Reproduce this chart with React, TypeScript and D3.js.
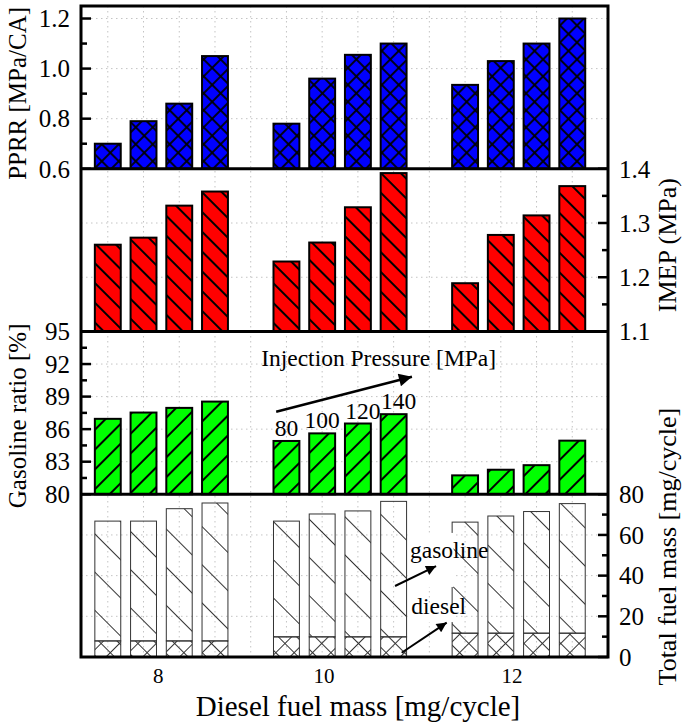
import * as d3 from 'd3'

// Diesel fuel mass groups [mg/cycle] and injection pressures [MPa]
const dieselMass = [8, 10, 12]
const pressures = [80, 100, 120, 140]
const xTickPos = [7.965, 9.82, 11.925]
const xTickLabels = ['8', '10', '12']

// PPRR [MPa/CA]
const pprr = [
  [0.70, 0.79, 0.86, 1.05],
  [0.78, 0.96, 1.055, 1.10],
  [0.935, 1.03, 1.10, 1.20],
]
// IMEP [MPa]
const imep = [
  [1.26, 1.273, 1.332, 1.358],
  [1.229, 1.264, 1.329, 1.392],
  [1.189, 1.278, 1.314, 1.368],
]
// Gasoline ratio [%]
const gasRatio = [
  [86.95, 87.53, 87.96, 88.54],
  [84.91, 85.61, 86.52, 87.38],
  [81.74, 82.26, 82.68, 84.94],
]
// Total fuel mass [mg/cycle] and its diesel part
const totalMass = [
  [66.8, 66.8, 72.9, 75.7],
  [66.8, 70.3, 71.8, 76.5],
  [66.3, 69.3, 71.5, 75.4],
]
const dieselPart = [7.9, 9.9, 11.7]

// ── layout ───────────────────────────────────────────────────────────────────
const W = 686, H = 724
const L = 81, R = 608, T = 6, B = 657
const PH = (B - T) / 4
const FONT = "'Liberation Serif', 'Times New Roman', serif"
const GRID = '#c4c4c4'

const x = d3.scaleLinear().domain([7.1, 13.0]).range([L, R])
const SLOT = 0.4
const barW = x(7.1 + 0.29) - x(7.1)
const bx = (g: number, j: number) => x(dieselMass[g] + (j - 1.5) * SLOT)

const yP = d3.scaleLinear().domain([0.6, 1.25]).range([T + PH, T])
const yI = d3.scaleLinear().domain([1.1, 1.4]).range([T + 2 * PH, T + PH])
const yG = d3.scaleLinear().domain([80, 95]).range([T + 3 * PH, T + 2 * PH])
const yM = d3.scaleLinear().domain([0, 80]).range([B, T + 3 * PH])

const cells = dieselMass.flatMap((_, g) => pressures.map((__, j) => ({ g, j })))

type Scale = d3.ScaleLinear<number, number>

function Ticks({ s, side, major, minor, fmt }: {
  s: Scale; side: 'left' | 'right'; major: number[]; minor: number[]; fmt: (v: number) => string
}) {
  const x0 = side === 'left' ? L : R
  const d = side === 'left' ? 1 : -1
  return (
    <g>
      {minor.map(v => (
        <line key={'m' + v} x1={x0} x2={x0 + d * 6} y1={s(v)} y2={s(v)} stroke="#000" strokeWidth={2.5} />
      ))}
      {major.map(v => (
        <line key={'M' + v} x1={x0} x2={x0 + d * 10} y1={s(v)} y2={s(v)} stroke="#000" strokeWidth={2.5} />
      ))}
      {major.map(v => (
        <text key={'t' + v} x={side === 'left' ? L - 11 : R + 11} y={s(v)} dy="0.35em"
          textAnchor={side === 'left' ? 'end' : 'start'} fontSize={25} fontFamily={FONT}>
          {fmt(v)}
        </text>
      ))}
    </g>
  )
}

function HGrid({ s, values }: { s: Scale; values: number[] }) {
  return (
    <g>
      {values.map(v => (
        <line key={v} x1={L} x2={R} y1={s(v)} y2={s(v)} stroke={GRID} strokeWidth={1} strokeDasharray="1.5,3.5" />
      ))}
    </g>
  )
}

function Bars({ s, vals, base, fill, pat, stroke = '#000', sw = 2 }: {
  s: Scale; vals: number[][]; base: number; fill: string; pat: string; stroke?: string; sw?: number
}) {
  return (
    <g>
      {cells.map(({ g, j }) => {
        const x0 = bx(g, j) - barW / 2
        const y0 = s(vals[g][j])
        const h = s(base) - y0
        return (
          <g key={g + '-' + j}>
            <rect x={x0} y={y0} width={barW} height={h} fill={fill} />
            <rect x={x0} y={y0} width={barW} height={h} fill={`url(#${pat})`} stroke={stroke} strokeWidth={sw} />
          </g>
        )
      })}
    </g>
  )
}

function Hatch({ id, p, angle, cross = false, color = '#000', sw = 2 }: {
  id: string; p: number; angle: number; cross?: boolean; color?: string; sw?: number
}) {
  return (
    <pattern id={id} width={p} height={p} patternUnits="userSpaceOnUse" patternTransform={`rotate(${angle})`}>
      <line x1={p / 2} x2={p / 2} y1={-1} y2={p + 1} stroke={color} strokeWidth={sw} />
      {cross && <line x1={-1} x2={p + 1} y1={p / 2} y2={p / 2} stroke={color} strokeWidth={sw} />}
    </pattern>
  )
}

export default function App() {
  const vGrid = d3.range(7.4, 12.7, SLOT)
  const panels = [T, T + PH, T + 2 * PH, T + 3 * PH]
  const g12Left = bx(2, 0) - barW / 2

  return (
    <svg width={W} height={H} viewBox={`0 0 ${W} ${H}`}
      style={{ position: 'absolute', left: 0, top: 0, background: '#fff' }} fontFamily={FONT}>
      <defs>
        <Hatch id="hCross" p={12} angle={45} cross sw={1.8} />
        <Hatch id="hBack" p={14} angle={-45} sw={2} />
        <Hatch id="hFwd" p={14} angle={45} sw={2} />
        <Hatch id="hGas" p={27} angle={-45} color="#333" sw={1} />
        <Hatch id="hDsl" p={13} angle={45} cross color="#333" sw={1} />
        <marker id="arrBig" viewBox="0 0 10 10" refX={10} refY={5} markerUnits="userSpaceOnUse"
          markerWidth={28} markerHeight={13} orient="auto">
          <path d="M0,0L10,5L0,10Z" fill="#000" />
        </marker>
        <marker id="arrSm" viewBox="0 0 10 10" refX={10} refY={5} markerUnits="userSpaceOnUse"
          markerWidth={19} markerHeight={10} orient="auto">
          <path d="M0,0L10,5L0,10Z" fill="#000" />
        </marker>
      </defs>

      {/* vertical dotted grid */}
      {vGrid.map(v => (
        <line key={v} x1={x(v)} x2={x(v)} y1={T} y2={B} stroke={GRID} strokeWidth={1} strokeDasharray="1.5,3.5" />
      ))}
      <HGrid s={yP} values={[0.8, 1.0, 1.2]} />
      <HGrid s={yI} values={[1.2, 1.3]} />
      <HGrid s={yG} values={[83, 86, 89, 92]} />
      <HGrid s={yM} values={[20, 40, 60]} />

      {/* bars */}
      <Bars s={yP} vals={pprr} base={0.6} fill="#0000ff" pat="hCross" />
      <Bars s={yI} vals={imep} base={1.1} fill="#ff0000" pat="hBack" />
      <Bars s={yG} vals={gasRatio} base={80} fill="#00ff00" pat="hFwd" />
      {cells.map(({ g, j }) => {
        const x0 = bx(g, j) - barW / 2
        const yt = yM(totalMass[g][j])
        const yd = yM(dieselPart[g])
        return (
          <g key={'m' + g + j}>
            <rect x={x0} y={yt} width={barW} height={yd - yt} fill="url(#hGas)" stroke="#333" strokeWidth={1} />
            <rect x={x0} y={yd} width={barW} height={yM(0) - yd} fill="url(#hDsl)" stroke="#333" strokeWidth={1} />
          </g>
        )
      })}

      {/* frame and panel separators */}
      <rect x={L} y={T} width={R - L} height={B - T} fill="none" stroke="#000" strokeWidth={3} />
      {panels.slice(1).map(p => (
        <line key={p} x1={L} x2={R} y1={p} y2={p} stroke="#000" strokeWidth={3} />
      ))}

      {/* axes */}
      <Ticks s={yP} side="left" major={[0.6, 0.8, 1.0, 1.2]} minor={[0.7, 0.9, 1.1]} fmt={d3.format('.1f')} />
      <Ticks s={yI} side="right" major={[1.1, 1.2, 1.3, 1.4]} minor={[1.15, 1.25, 1.35]} fmt={d3.format('.1f')} />
      <Ticks s={yG} side="left" major={[80, 83, 86, 89, 92, 95]} minor={[81.5, 84.5, 87.5, 90.5, 93.5]} fmt={String} />
      <Ticks s={yM} side="right" major={[0, 20, 40, 60, 80]} minor={[10, 30, 50, 70]} fmt={String} />

      {xTickPos.map((v, i) => (
        <text key={v} x={x(v)} y={683} textAnchor="middle" fontSize={21}>{xTickLabels[i]}</text>
      ))}
      <text x={358} y={716} textAnchor="middle" fontSize={29}>Diesel fuel mass [mg/cycle]</text>

      <text transform={`translate(17,${T + PH / 2 + 6}) rotate(-90)`} textAnchor="middle" dy="0.35em" fontSize={25}>
        PPRR [MPa/CA]
      </text>
      <text transform={`translate(17,${T + 2.5 * PH + 3}) rotate(-90)`} textAnchor="middle" dy="0.35em" fontSize={25}>
        Gasoline ratio [%]
      </text>
      <text transform={`translate(667,${T + 1.5 * PH - 5}) rotate(-90)`} textAnchor="middle" dy="0.35em" fontSize={26}>
        IMEP (MPa)
      </text>
      <text transform={`translate(667,${T + 3.5 * PH - 29}) rotate(-90)`} textAnchor="middle" dy="0.35em" fontSize={26}>
        Total fuel mass [mg/cycle]
      </text>

      {/* injection pressure annotation */}
      <text x={x(9.117)} y={yG(91.82)} fontSize={23.5}>Injection Pressure [MPa]</text>
      <line x1={x(9.285)} y1={yG(87.61)} x2={x(10.805)} y2={yG(90.83)} stroke="#000" strokeWidth={2.5} markerEnd="url(#arrBig)" />
      {pressures.map((p, j) => (
        <text key={p} x={bx(1, j) + (j > 1 ? 5 : 0)} y={yG(gasRatio[1][j]) - 5} textAnchor="middle" fontSize={23.5}>{p}</text>
      ))}

      {/* fuel labels */}
      <rect x={x(10.784) - 2} y={yM(61)} width={g12Left + 1.5 - x(10.784) + 2} height={yM(34.4) - yM(61)} fill="#fff" />
      <rect x={x(10.798) - 2} y={yM(25.6)} width={g12Left + 1.5 - x(10.798) + 2} height={yM(17.2) - yM(25.6)} fill="#fff" />
      <text x={x(10.784)} y={yM(48.5)} fontSize={23.5}>gasoline</text>
      <text x={x(10.798)} y={yM(21.1)} fontSize={23.5}>diesel</text>
      <line x1={x(10.616)} y1={yM(34.9)} x2={x(11.075)} y2={yM(44.7)} stroke="#000" strokeWidth={2} markerEnd="url(#arrSm)" />
      <line x1={x(10.69)} y1={yM(2.1)} x2={x(11.194)} y2={yM(16.9)} stroke="#000" strokeWidth={2} markerEnd="url(#arrSm)" />
    </svg>
  )
}
